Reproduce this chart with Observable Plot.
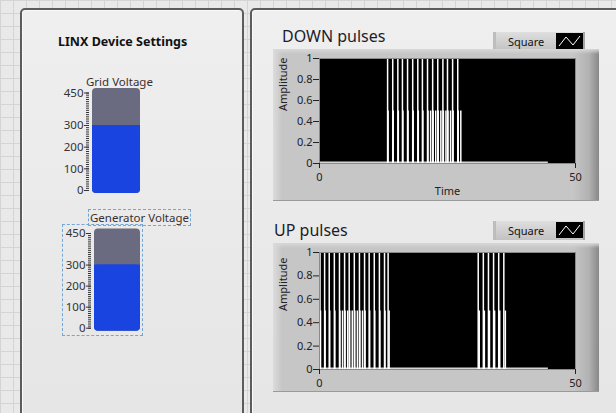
<!DOCTYPE html>
<html>
<head>
<meta charset="utf-8">
<script src="https://cdn.jsdelivr.net/npm/d3@7"></script>
<script src="https://cdn.jsdelivr.net/npm/@observablehq/plot@0.6"></script>
<style>
  html, body { margin:0; padding:0; }
  body {
    width:616px; height:413px; overflow:hidden; position:relative;
    font-family:"Noto Sans", "Open Sans", sans-serif;
    background:
      repeating-linear-gradient(to right, #d4d4d4 0 1px, transparent 1px 13px),
      repeating-linear-gradient(to bottom, #d4d4d4 0 1px, transparent 1px 13px),
      #e9e9e9;
  }
  .abs { position:absolute; }
  .panel {
    position:absolute; box-sizing:border-box;
    border:2px solid #5c5c5c; border-radius:5px;
    background:linear-gradient(to bottom, #efefef, #e5e5e5);
    box-shadow: inset 1px 1px 0 #fafafa;
  }
  .frame {
    position:absolute; box-sizing:border-box;
    background:linear-gradient(to right, #dcdcdc 0px, #c6c6c6 9px, #c6c6c6 300px, #b2b2b2 316px, #888 326px);
    border-bottom:1px solid #9a9a9a;
  }
  .frame::before {
    content:""; position:absolute; left:0; right:0; top:0; height:5px;
    background:linear-gradient(to bottom, #d8d8d8, rgba(198,198,198,0));
  }
  .legend {
    position:absolute; box-sizing:border-box; width:92px; height:19px;
    background:linear-gradient(to bottom, #dedede, #c2c2c2);
    border-left:3px solid #bdbdbd; border-right:2px solid #a5a5a5;
    font-size:11px; color:#111;
  }
  .legend span { position:absolute; left:12px; top:2px; }
  .legend svg { position:absolute; left:60px; top:1px; }
  .title { position:absolute; font-size:16px; color:#1c1c2c; white-space:nowrap; line-height:16px; }
  .lbl { position:absolute; font-size:11px; color:#3a3030; white-space:nowrap; line-height:13px; }
  .dash { position:absolute; box-sizing:border-box; border:1px dashed #74a6d4; }
  svg.plot { position:absolute; }
</style>
</head>
<body>
<div class="panel" style="left:20px; top:8px; width:224px; height:430px;"></div>
<div class="panel" style="left:250px; top:8px; width:400px; height:430px;"></div>

<div class="abs" style="left:58px; top:33px; font-size:12.5px; font-weight:bold; color:#111; white-space:nowrap;">LINX Device Settings</div>
<div class="lbl" style="left:86px; top:75px; font-size:11.5px;">Grid Voltage</div>
<div class="dash" style="left:88px; top:209px; width:103px; height:17px;"></div>
<div class="lbl" style="left:90px; top:211px; font-size:11.5px;">Generator Voltage</div>
<div class="dash" style="left:62px; top:224px; width:81px; height:112px;"></div>

<div class="title" style="left:282px; top:28px;">DOWN pulses</div>
<div class="legend" style="left:493px; top:32px;"><span>Square</span>
  <svg width="27" height="16"><rect width="27" height="16" fill="#000"/><polyline points="3,13 10,4 17,12 24,3" fill="none" stroke="#fff" stroke-width="1"/></svg></div>
<div class="frame" id="f1" style="left:273px; top:49px; width:326px; height:152px;"></div>

<div class="title" style="left:274px; top:222px;">UP pulses</div>
<div class="legend" style="left:493px; top:221px;"><span>Square</span>
  <svg width="27" height="16"><rect width="27" height="16" fill="#000"/><polyline points="3,13 10,4 17,12 24,3" fill="none" stroke="#fff" stroke-width="1"/></svg></div>
<div class="frame" id="f2" style="left:273px; top:243px; width:326px; height:149px;"></div>

<script>
// ---- data ----
const tankMax = 450;
const tankLabels = [0, 100, 200, 300, 450];
const gridVoltage = 300;
const generatorVoltage = 300;

const yTicks = [0, 0.2, 0.4, 0.6, 0.8, 1];
const xTicks = [0, 50];
const timeDomain = [0, 50];
const baselineEnd = 44.7;

const downHigh = [13.3, 14.3, 15.3, 16.2, 17.2, 18.2, 19.2, 20.1, 21.1, 22.1, 23.1, 24.1, 25.0, 26.0, 27.0];
const downLow  = [13.4, 14.4, 15.4, 16.3, 17.3, 18.3, 19.3, 20.2, 21.2, 21.7, 22.2, 22.7, 23.2, 23.7, 24.2, 24.7, 25.1, 25.6, 26.1, 27.1, 27.6];
const upHigh   = [0.1, 1.0, 1.9, 2.9, 3.9, 4.9, 5.8, 6.8, 7.8, 8.8, 9.7, 10.7, 11.7, 12.7, 13.4, 31.0, 32.0, 33.0, 34.0, 35.0, 36.0];
const upLow    = [0.2, 1.1, 2.0, 3.0, 4.0, 4.5, 5.0, 5.5, 5.9, 6.4, 6.9, 7.4, 7.9, 8.4, 8.9, 9.8, 10.8, 11.8, 12.8, 13.6, 31.2, 32.2, 33.2, 34.2, 35.2, 36.3];

const FONT = "Noto Sans, Open Sans, sans-serif";

function place(node, left, top) {
  node.classList.add("plot");
  node.style.left = left + "px";
  node.style.top = top + "px";
  document.body.appendChild(node);
}

function tank(value, o) {
  return Plot.plot({
    width: o.w, height: o.h,
    marginLeft: o.ml, marginRight: o.mr, marginTop: o.mt, marginBottom: o.mb,
    y: {domain: [0, tankMax]},
    style: {background: "transparent", fontFamily: FONT, fontSize: "11.5px", overflow: "visible"},
    marks: [
      Plot.rect([tankMax], {y1: 0, y2: d => d, fill: "#6a6a80", rx: 4, insetTop: -4.5, insetBottom: -3}),
      Plot.rect([value], {y1: 0, y2: d => d, fill: "#1a44e0", rx: 4, insetBottom: -3}),
      Plot.rect([value], {y1: 0, y2: d => d, fill: "#1a44e0", insetBottom: 12}),
      Plot.axisY({ticks: 45, tickSize: 3, tickFormat: () => "", dx: -3, color: "#333", label: null}),
      Plot.axisY({ticks: tankLabels, tickSize: 5, tickPadding: 1, dx: -3, color: "#333", label: null, tickFormat: d => String(d)})
    ]
  });
}

function pulses(high, low, showTime, h) {
  return Plot.plot({
    width: 326, height: h,
    marginLeft: 46, marginRight: 24, marginTop: 9, marginBottom: h - 9 - (showTime ? 105 : 117),
    x: {domain: timeDomain},
    y: {domain: [0, 1]},
    style: {background: "transparent", fontFamily: FONT, fontSize: "11px", color: "#222", overflow: "visible"},
    marks: [
      Plot.frame({fill: "black"}),
      Plot.ruleY([0], {x1: 0, x2: baselineEnd, stroke: "#d6d6d6", strokeWidth: 2, dy: -1}),
      Plot.ruleX(low, {y1: 0, y2: 0.5, stroke: "white", strokeWidth: 1.5}),
      Plot.ruleX(high, {y1: 0, y2: 1, stroke: "white", strokeWidth: 1.5}),
      Plot.frame({stroke: "#8a8a8a", strokeWidth: 1}),
      Plot.axisY({ticks: yTicks, tickSize: 6, tickPadding: 1, label: null, tickFormat: d => String(d)}),
      Plot.axisX({ticks: xTicks, tickSize: 5, tickPadding: 5, label: null, tickFormat: d => String(d)}),
      Plot.text(["Amplitude"], {frameAnchor: "left", dx: -36, rotate: -90, fontSize: 11, fill: "#222"}),
      showTime ? Plot.text(["Time"], {frameAnchor: "bottom", dy: 31, fontSize: 11, fill: "#222"}) : null
    ]
  });
}

place(tank(gridVoltage, {w: 105, h: 120, ml: 52, mr: 5, mt: 12.5, mb: 10}), 40, 80);
place(tank(generatorVoltage, {w: 105, h: 118, ml: 54, mr: 5, mt: 13, mb: 10.3}), 40, 220);
place(pulses(downHigh, downLow, true, 152), 273, 49);
place(pulses(upHigh, upLow, false, 149), 273, 243);
</script>
</body>
</html>
